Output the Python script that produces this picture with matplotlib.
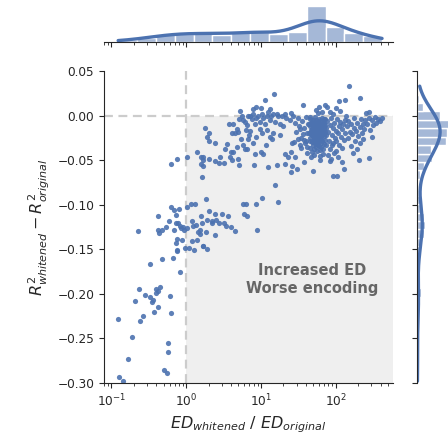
import numpy as np
import matplotlib
matplotlib.use('Agg')
import matplotlib.pyplot as plt
import seaborn as sns

sns.set_style('ticks')

BLUE = '#4c72b0'

# (log10 of ED ratio, delta R^2) pairs, grouped by region
low_group = [
    (-0.90, -0.293), (-0.84, -0.298), (-0.78, -0.273), (-0.72, -0.248), (-0.91, -0.228),
    (-0.62, -0.230), (-0.58, -0.225), (-0.43, -0.220), (-0.38, -0.215), (-0.69, -0.208),
    (-0.63, -0.194), (-0.55, -0.201), (-0.48, -0.203), (-0.46, -0.209), (-0.45, -0.207),
    (-0.41, -0.194), (-0.38, -0.197), (-0.35, -0.192), (-0.40, -0.199), (-0.22, -0.202),
    (-0.20, -0.222), (-0.24, -0.255), (-0.24, -0.265), (-0.30, -0.285), (-0.26, -0.289),
    (-0.08, -0.175), (-0.49, -0.167), (-0.33, -0.161), (-0.17, -0.160), (-0.12, -0.152),
    (-0.12, -0.151), (-0.65, -0.129), (-0.38, -0.113), (-0.38, -0.128), (-0.36, -0.132),
    (-0.32, -0.128), (-0.27, -0.125), (-0.23, -0.118), (-0.20, -0.102), (-0.16, -0.106),
    (-0.13, -0.112), (-0.10, -0.105), (-0.14, -0.121), (-0.11, -0.120), (-0.08, -0.124),
    (-0.04, -0.125), (0.01, -0.126), (-0.03, -0.128), (-0.07, -0.126), (-0.16, -0.128),
    (-0.12, -0.139), (-0.14, -0.143), (-0.05, -0.140), (0.01, -0.103), (0.07, -0.099),
    (0.12, -0.099), (-0.02, -0.149), (0.04, -0.148), (0.11, -0.151), (0.08, -0.141),
    (0.14, -0.140), (0.16, -0.131), (0.18, -0.133), (0.13, -0.123), (0.08, -0.118),
    (0.09, -0.124), (0.20, -0.113), (0.21, -0.121), (0.28, -0.117), (0.27, -0.094),
    (0.31, -0.107), (0.34, -0.120), (0.35, -0.118), (0.39, -0.110), (0.40, -0.117),
    (0.44, -0.121), (0.48, -0.110), (0.51, -0.121), (0.53, -0.124), (0.56, -0.113),
    (0.60, -0.125), (0.65, -0.129), (0.27, -0.131), (0.39, -0.134), (0.22, -0.146),
    (0.28, -0.150), (0.23, -0.146), (0.19, -0.128),
]

mid_group = [
    (-0.20, -0.054), (-0.12, -0.049), (0.01, -0.047), (0.15, -0.041), (0.20, -0.046),
    (0.23, -0.050), (0.20, -0.054), (0.23, -0.057), (0.21, -0.069), (0.30, -0.049),
    (0.39, -0.051), (0.44, -0.053), (0.51, -0.053), (0.59, -0.047), (0.60, -0.041),
    (0.69, -0.049), (0.71, -0.055), (0.22, -0.047), (0.28, -0.024), (0.30, -0.028),
    (0.30, -0.019), (0.25, -0.014), (0.39, -0.031), (0.54, -0.032), (0.57, -0.010),
    (0.61, -0.020), (0.65, -0.020), (0.69, -0.018), (0.73, -0.026), (0.76, -0.033),
    (0.79, -0.038), (0.81, -0.038), (0.83, -0.026), (0.85, -0.017), (0.91, -0.056),
    (1.01, -0.092), (0.94, -0.099), (0.76, -0.099), (0.80, -0.099), (0.77, -0.110),
    (0.81, -0.113), (0.95, -0.128), (1.19, -0.078), (1.23, -0.097), (1.09, -0.058),
    (1.21, -0.056), (1.32, -0.054), (1.41, -0.057), (1.36, -0.047), (1.40, -0.063),
    (1.48, -0.060), (1.57, -0.052), (1.70, -0.062), (1.79, -0.050), (1.92, -0.051),
    (1.96, -0.068), (2.02, -0.068), (2.11, -0.060), (2.31, -0.050), (2.44, -0.048),
    (1.02, -0.020), (1.07, -0.033), (1.15, -0.026), (1.16, -0.020), (1.26, -0.022),
    (1.32, -0.043), (1.40, -0.041), (1.42, -0.031), (1.52, -0.033), (1.54, -0.025),
    (1.60, -0.028),
]

upper_group = [
    (1.06, 0.017), (1.18, 0.024), (1.56, 0.012), (1.86, 0.012), (2.04, 0.016),
    (2.12, 0.017), (2.18, 0.033), (2.33, 0.020), (2.41, 0.003), (0.72, 0.005),
    (0.90, 0.007), (0.94, 0.010), (1.00, 0.008), (1.12, 0.007), (1.21, 0.002),
    (1.32, 0.002), (1.40, 0.003), (1.76, 0.003), (1.88, 0.010), (2.01, 0.009),
    (2.14, 0.000),
    (0.63, -0.009), (0.68, -0.015), (0.71, -0.004), (0.74, -0.001), (0.76, -0.005),
    (0.79, -0.007), (0.81, -0.011), (0.83, -0.001), (0.85, 0.000), (0.88, -0.004),
    (0.90, 0.002), (0.92, -0.009), (0.94, -0.003), (0.96, -0.001), (0.99, -0.007),
    (1.01, 0.002), (1.03, -0.003), (1.06, -0.009), (1.08, 0.000), (1.10, 0.004),
    (1.12, -0.005), (1.14, -0.001), (1.16, 0.002), (1.19, -0.007), (1.23, -0.001),
    (1.28, 0.000), (1.34, -0.003), (1.39, -0.005), (1.43, -0.001), (0.80, -0.016),
    (0.84, -0.022), (0.90, -0.031), (0.94, -0.024), (0.99, -0.015), (1.08, -0.016),
    (1.12, -0.024), (0.92, -0.043), (1.00, -0.041), (1.03, -0.043), (0.61, -0.050),
    (0.52, -0.038), (0.45, -0.046), (0.63, -0.041), (0.68, -0.035), (1.30, -0.012),
    (1.25, -0.009),
]

# dense blob around ED ratio ~ 40-80
core_group = [
    (1.65, -0.004), (1.66, -0.012), (1.67, -0.021), (1.68, -0.030), (1.69, -0.008),
    (1.70, -0.017), (1.71, -0.026), (1.72, -0.002), (1.73, -0.035), (1.74, -0.013),
    (1.75, -0.022), (1.76, -0.006), (1.77, -0.029), (1.78, -0.015), (1.79, -0.039),
    (1.80, -0.010), (1.81, -0.024), (1.82, -0.003), (1.83, -0.018), (1.84, -0.032),
    (1.85, -0.008), (1.86, -0.027), (1.87, -0.014), (1.64, -0.019), (1.66, -0.028),
    (1.68, -0.015), (1.70, -0.005), (1.72, -0.024), (1.74, -0.031), (1.76, -0.017),
    (1.78, -0.009), (1.80, -0.020), (1.82, -0.028), (1.84, -0.012), (1.86, -0.004),
    (1.65, -0.036), (1.67, -0.009), (1.69, -0.023), (1.71, -0.014), (1.73, -0.019),
    (1.75, -0.010), (1.77, -0.021), (1.79, -0.026), (1.81, -0.016), (1.83, -0.007),
    (1.85, -0.023), (1.87, -0.033), (1.66, -0.002), (1.68, -0.041), (1.70, -0.029),
    (1.72, -0.011), (1.74, -0.005), (1.76, -0.033), (1.78, -0.024), (1.80, -0.035),
    (1.82, -0.013), (1.84, -0.021), (1.86, -0.018), (1.65, -0.025), (1.67, -0.016),
    (1.69, -0.033), (1.71, -0.038), (1.73, -0.008), (1.75, -0.028), (1.77, -0.012),
    (1.79, -0.018), (1.81, -0.006), (1.83, -0.037), (1.85, -0.015), (1.87, -0.022),
    (1.64, -0.010), (1.66, -0.019), (1.68, -0.022), (1.70, -0.012), (1.72, -0.031),
    (1.74, -0.020), (1.76, -0.013), (1.78, -0.034), (1.80, -0.027), (1.82, -0.021),
    (1.84, -0.004), (1.86, -0.011), (1.71, -0.044), (1.75, -0.040), (1.79, -0.045),
    (1.83, -0.043), (1.67, -0.046), (1.73, -0.014), (1.77, -0.004), (1.81, -0.031),
    (1.69, -0.016), (1.74, -0.026), (1.78, -0.019), (1.70, -0.022), (1.76, -0.025),
    (1.72, -0.017), (1.80, -0.014), (1.68, -0.006), (1.82, 0.004), (1.73, 0.006),
    (1.77, 0.010),
]

right_group = [
    (1.45, -0.008), (1.47, -0.018), (1.49, -0.003), (1.50, -0.026), (1.51, -0.012),
    (1.53, -0.036), (1.55, -0.006), (1.56, -0.021), (1.58, -0.014), (1.59, -0.031),
    (1.60, -0.002), (1.61, -0.042), (1.62, -0.019), (1.63, -0.009), (1.44, -0.030),
    (1.46, -0.047), (1.52, -0.015), (1.57, -0.027), (1.62, -0.035),
    (1.89, -0.006), (1.90, -0.018), (1.91, -0.029), (1.92, -0.011), (1.93, -0.038),
    (1.94, -0.003), (1.95, -0.022), (1.96, -0.014), (1.97, -0.031), (1.98, -0.008),
    (1.99, -0.025), (2.00, -0.017), (2.01, -0.040), (2.02, -0.004), (2.03, -0.020),
    (2.04, -0.012), (2.05, -0.033), (2.06, -0.007), (2.07, -0.024), (2.08, -0.015),
    (2.09, -0.036), (2.10, -0.010), (2.11, -0.027), (2.12, -0.019), (2.13, -0.005),
    (1.90, -0.044), (1.94, -0.049), (1.98, -0.042), (2.03, -0.046), (2.08, -0.052),
    (1.92, 0.004), (1.97, 0.002), (2.06, 0.005), (1.95, -0.033), (2.00, -0.028),
    (2.15, -0.012), (2.16, -0.025), (2.17, -0.006), (2.19, -0.018), (2.20, -0.034),
    (2.21, -0.009), (2.22, -0.021), (2.23, -0.042), (2.24, -0.014), (2.25, -0.003),
    (2.26, -0.028), (2.27, -0.017), (2.28, -0.037), (2.29, -0.008), (2.30, -0.023),
    (2.32, -0.013), (2.33, -0.031), (2.34, -0.004), (2.35, -0.019), (2.36, -0.010),
    (2.37, -0.026), (2.38, -0.015), (2.39, -0.005),
    (2.42, -0.009), (2.44, -0.003), (2.46, -0.016), (2.48, -0.005), (2.50, -0.011),
    (2.52, -0.002), (2.54, -0.008), (2.56, -0.004), (2.59, -0.006), (2.62, -0.003),
    (2.48, -0.024), (2.45, 0.004),
]

y_ticks = [-0.30, -0.25, -0.20, -0.15, -0.10, -0.05, 0.00, 0.05]
x_ticks = [0.1, 1, 10, 100]

points = np.array(low_group + mid_group + upper_group + core_group + right_group)
ed_ratio = 10 ** points[:, 0]
dr2 = points[:, 1]

xlim = (10 ** -1.10, 10 ** 2.765)
ylim = (-0.30, 0.05)

fig = plt.figure(figsize=(4.48, 4.41), dpi=100)
ax = fig.add_axes([0.232, 0.1315, 0.645, 0.7075])
ax_top = fig.add_axes([0.232, 0.9048, 0.645, 0.086])
ax_right = fig.add_axes([0.9308, 0.1315, 0.08, 0.7075])

# main scatter
ax.fill_between([1, xlim[1]], ylim[0], 0, color='#efefef', linewidth=0, zorder=0)
ax.axvline(1, color='#cccccc', lw=1.6, ls=(0, (4, 2.5)), zorder=1)
ax.axhline(0, color='#cccccc', lw=1.6, ls=(0, (4, 2.5)), zorder=1)
ax.scatter(ed_ratio, dr2, s=14, color=BLUE, alpha=0.9, linewidths=0, zorder=2)
ax.set_xscale('log')
ax.set_xlim(xlim)
ax.set_ylim(ylim)
ax.set_xticks(x_ticks)
ax.set_yticks(y_ticks)
ax.tick_params(labelsize=8.7, colors='.15')
ax.set_xlabel(r'$ED_{whitened}$ / $ED_{original}$', fontsize=11.5, color='.15')
ax.set_ylabel(r'$R^2_{whitened} - R^2_{original}$', fontsize=11.5, color='.15')
ax.text(49, -0.184, 'Increased ED\nWorse encoding', ha='center', va='center',
        fontsize=10.5, fontweight='bold', color='#666666')
sns.despine(ax=ax)

# marginals
sns.histplot(x=ed_ratio, ax=ax_top, bins=14, log_scale=True, stat='density', kde=True,
             color=BLUE, alpha=0.5, edgecolor='white', linewidth=1,
             kde_kws={'cut': 0}, line_kws={'linewidth': 2.4})
ax_top.set_xlim(xlim)
ax_top.set_xticks(x_ticks)
ax_top.set(xlabel='', ylabel='')
ax_top.tick_params(axis='x', labelbottom=False)
ax_top.set_yticks([])
sns.despine(ax=ax_top, left=True)

sns.histplot(y=dr2, ax=ax_right, bins=35, stat='density', kde=True,
             color=BLUE, alpha=0.5, edgecolor='white', linewidth=1,
             kde_kws={'cut': 0}, line_kws={'linewidth': 2.4})
ax_right.set_ylim(ylim)
ax_right.set_yticks(y_ticks)
ax_right.set(xlabel='', ylabel='')
ax_right.tick_params(axis='y', labelleft=False)
ax_right.set_xticks([])
sns.despine(ax=ax_right, bottom=True)

fig.savefig('out.png', dpi=100)
